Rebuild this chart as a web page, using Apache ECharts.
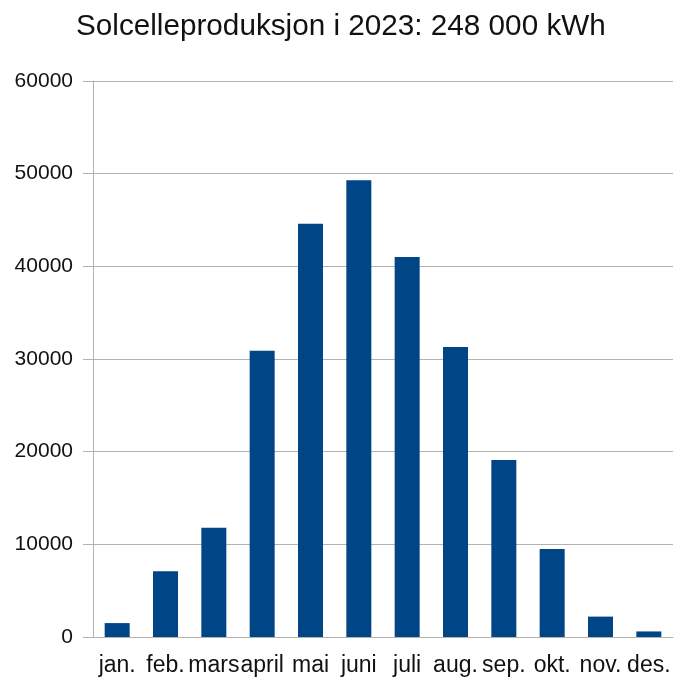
<!DOCTYPE html>
<html>
<head>
<meta charset="utf-8">
<script src="https://cdn.jsdelivr.net/npm/echarts@6/dist/echarts.min.js"></script>
<style>
  html, body { margin: 0; padding: 0; background: #fff; }
  #main { width: 675px; height: 677px; }
</style>
</head>
<body>
<div id="main"></div>
<script>
const months = ['jan.', 'feb.', 'mars', 'april', 'mai', 'juni', 'juli', 'aug.', 'sep.', 'okt.', 'nov.', 'des.'];
const production = [1500, 7100, 11800, 30900, 44600, 49300, 41000, 31300, 19100, 9500, 2200, 600];
const yTicks = { min: 0, max: 60000, interval: 10000 };

const chart = echarts.init(document.getElementById('main'));
const lineColor = '#b3b3b3';
const font = 'Liberation Sans';

chart.setOption({
  animation: false,
  title: {
    text: 'Solcelleproduksjon i 2023: 248 000 kWh',
    left: 71,
    top: 7,
    textStyle: { fontFamily: font, fontSize: 29.7, fontWeight: 'normal', color: '#111' }
  },
  grid: { left: 93, right: 2, top: 81, bottom: 39 },
  xAxis: {
    type: 'category',
    data: months,
    axisLine: { lineStyle: { color: lineColor, width: 1 } },
    axisTick: { length: 10, lineStyle: { color: lineColor } },
    axisLabel: { interval: 0, margin: 17, fontFamily: font, fontSize: 23, color: '#111' }
  },
  yAxis: {
    type: 'value',
    min: yTicks.min,
    max: yTicks.max,
    interval: yTicks.interval,
    axisLine: { show: true, lineStyle: { color: lineColor, width: 1 } },
    axisTick: { show: true, length: 10, lineStyle: { color: lineColor } },
    splitLine: { lineStyle: { color: lineColor, width: 1 } },
    axisLabel: { margin: 20, fontFamily: font, fontSize: 21, color: '#111', formatter: v => String(v) }
  },
  series: [{
    type: 'bar',
    data: production,
    barWidth: 25,
    itemStyle: { color: '#004586' }
  }]
});
</script>
</body>
</html>
